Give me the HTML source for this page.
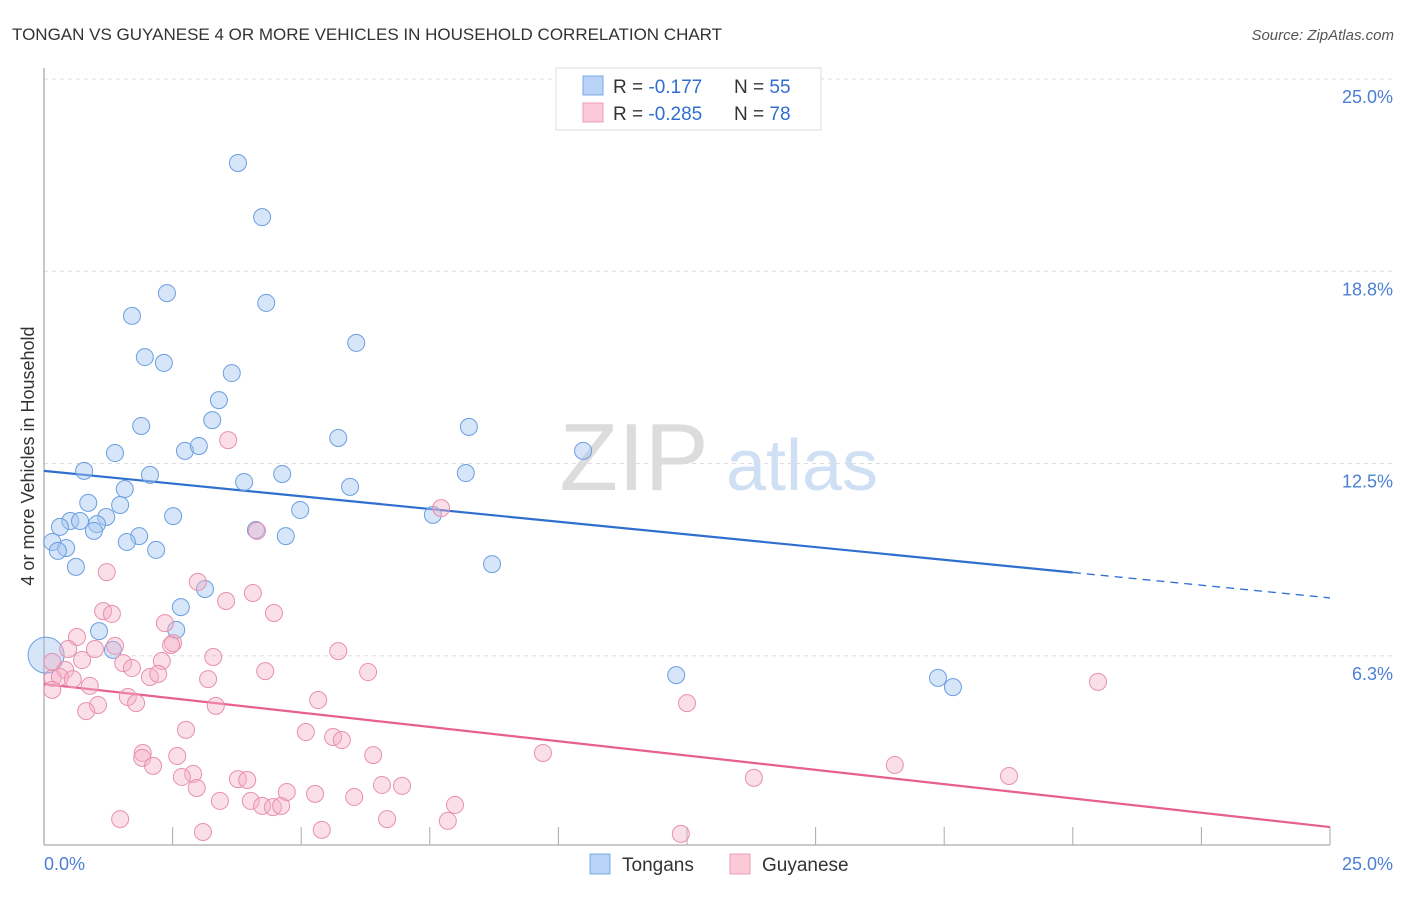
<!DOCTYPE html>
<html><head><meta charset="utf-8"><style>
body{margin:0;background:#fff;font-family:"Liberation Sans",sans-serif;}
svg text{font-family:"Liberation Sans",sans-serif;}
</style></head><body>
<svg id="c" width="1406" height="892" xmlns="http://www.w3.org/2000/svg">
<text x="12" y="40" font-size="17" fill="#333">TONGAN VS GUYANESE 4 OR MORE VEHICLES IN HOUSEHOLD CORRELATION CHART</text>
<text x="1394" y="40" font-size="15" fill="#555" text-anchor="end" font-style="italic">Source: ZipAtlas.com</text>
<g><text x="634" y="490" font-size="96" fill="#dcdcdc" font-family="Liberation Serif" text-anchor="middle">ZIP</text><text x="802" y="490" font-size="72" fill="#cfe0f4" text-anchor="middle">atlas</text></g>
<g id="grid"></g><g id="axes"></g><g id="trend"></g><g id="pts"></g>
<text transform="translate(34,456) rotate(-90)" font-size="18" fill="#333" text-anchor="middle">4 or more Vehicles in Household</text>
<g>
<rect x="556" y="68" width="265" height="62" fill="#fff" stroke="#ddd"/>
<rect x="583" y="76" width="20" height="19" fill="#b8d3f5" stroke="#7aa7e4"/>
<rect x="583" y="103" width="20" height="19" fill="#fcc9d8" stroke="#ec9fb8"/>
<text x="613" y="93" font-size="19" fill="#333">R = <tspan fill="#2f6fd0"> -0.177</tspan><tspan x="734">N = </tspan><tspan fill="#2f6fd0">55</tspan></text>
<text x="613" y="120" font-size="19" fill="#333">R = <tspan fill="#2f6fd0">-0.285</tspan><tspan x="734">N = </tspan><tspan fill="#2f6fd0">78</tspan></text>
</g>
<g>
<rect x="590" y="854" width="20" height="20" fill="#b8d3f5" stroke="#7aa7e4"/>
<text x="622" y="871" font-size="19" fill="#333">Tongans</text>
<rect x="730" y="854" width="20" height="20" fill="#fcc9d8" stroke="#ec9fb8"/>
<text x="762" y="871" font-size="19" fill="#333">Guyanese</text>
</g>
</svg>
<script>
const yTicks=[25,18.75,12.5,6.25];
const yTickLabels=["25.0%","18.8%","12.5%","6.3%"];
const xTickVals=[0,2.5,5,7.5,10,12.5,15,17.5,20,22.5,25];
const tonganX=[3.77,4.24,2.39,4.32,1.71,1.96,2.33,6.07,3.65,3.40,3.27,1.89,5.72,8.26,1.38,2.74,3.01,10.48,0.78,2.06,3.89,4.63,8.20,5.95,1.57,0.86,1.48,2.51,4.98,7.56,0.51,0.70,0.31,1.21,1.03,0.97,1.85,1.61,4.12,4.70,0.16,0.43,0.27,2.18,0.62,8.71,3.13,2.66,1.07,2.57,1.34,0.04,12.29,17.38,17.67];
const tonganY=[22.27,20.51,18.04,17.72,17.30,15.96,15.77,16.42,15.44,14.56,13.91,13.72,13.33,13.69,12.84,12.91,13.07,12.91,12.26,12.13,11.90,12.16,12.19,11.74,11.67,11.22,11.15,10.79,10.99,10.83,10.63,10.63,10.44,10.76,10.53,10.31,10.14,9.95,10.34,10.14,9.95,9.75,9.66,9.69,9.14,9.23,8.42,7.83,7.05,7.09,6.44,6.27,5.62,5.53,5.23];
const guyX=[1.22,2.99,3.54,4.06,4.47,1.15,1.32,2.35,0.64,2.51,2.47,1.38,0.99,0.47,0.74,5.72,3.29,2.29,1.54,1.71,4.30,6.30,0.41,3.19,2.06,2.22,0.17,0.31,0.56,0.16,0.89,1.63,1.79,5.33,3.34,1.05,0.82,2.76,5.09,5.62,5.79,6.40,1.92,1.91,2.12,2.59,2.90,2.68,2.97,3.77,3.95,3.42,4.02,4.24,4.45,4.61,4.72,5.27,6.03,6.57,6.96,7.99,7.85,6.67,5.40,3.09,1.48,3.58,7.72,4.14,20.49,12.50,9.70,13.80,16.54,18.76,12.38,0.16];
const guyY=[8.97,8.65,8.03,8.29,7.64,7.70,7.61,7.31,6.86,6.66,6.60,6.57,6.47,6.47,6.11,6.40,6.21,6.08,6.01,5.85,5.75,5.72,5.79,5.49,5.56,5.66,5.53,5.56,5.49,5.14,5.27,4.91,4.71,4.81,4.62,4.65,4.45,3.84,3.77,3.61,3.51,3.02,3.09,2.93,2.67,2.99,2.41,2.31,1.95,2.24,2.21,1.53,1.53,1.37,1.33,1.37,1.82,1.76,1.66,2.05,2.02,1.40,0.88,0.94,0.59,0.52,0.94,13.26,11.05,10.31,5.40,4.71,3.09,2.28,2.70,2.34,0.46,6.05];
const tonganTrend=[12.26,8.13]; // value at x=0 and x=25
const guyTrend=[5.33,0.68];
const NS="http://www.w3.org/2000/svg";
const X=v=>44+v/25*1286, Y=v=>848-v/25*769;
function mk(tag,attrs,parent){const e=document.createElementNS(NS,tag);for(const k in attrs)e.setAttribute(k,attrs[k]);parent.appendChild(e);return e;}
const grid=document.getElementById('grid'),axes=document.getElementById('axes'),trend=document.getElementById('trend'),pts=document.getElementById('pts');
yTicks.forEach((t,i)=>{
 const l=mk('line',{x1:44,x2:1394,y1:Y(t),y2:Y(t),stroke:'#ddd','stroke-dasharray':'4,4'},grid);
 
 
 const tx=mk('text',{x:1393,y:Y(t)+24,'font-size':18,fill:'#4a7fd4','text-anchor':'end'},axes);
 tx.textContent=yTickLabels[i];
 
 
});
const ya=mk('line',{x1:44,x2:44,y1:68,y2:845,stroke:'#aaa','stroke-width':1.3},axes);


const xa=mk('line',{x1:44,x2:1330,y1:845,y2:845,stroke:'#aaa','stroke-width':1.3},axes);


xTickVals.forEach(t=>{
 const l=mk('line',{x1:X(t),x2:X(t),y1:827,y2:845,stroke:'#aaa'},axes);
 
 
});
const xl0=mk('text',{x:44,y:870,'font-size':18,fill:'#4a7fd4'},axes);xl0.textContent='0.0%';


const xl1=mk('text',{x:1393,y:870,'font-size':18,fill:'#4a7fd4','text-anchor':'end'},axes);xl1.textContent='25.0%';


function draw(xs,ys,fill,stroke,name){
 xs.forEach((x,i)=>{
  const big=(name==='tongan-point'&&i===51);
  const c=mk('circle',{cx:X(x),cy:Y(ys[i]),r:big?18:8.5,fill:fill,stroke:stroke,'stroke-width':1},pts);
  
  
 });
}
draw(tonganX,tonganY,'rgba(164,198,240,0.45)','#6b9fe0','tongan-point');
draw(guyX,guyY,'rgba(246,176,198,0.4)','#e890ae','guyanese-point');
const at=(tr,x)=>tr[0]+(tr[1]-tr[0])*x/25;
const tb=mk('line',{x1:X(0),y1:Y(at(tonganTrend,0)),x2:X(20),y2:Y(at(tonganTrend,20)),stroke:'#2f6fd0','stroke-width':2.2},trend);


const td=mk('line',{x1:X(20),y1:Y(at(tonganTrend,20)),x2:X(25),y2:Y(at(tonganTrend,25)),stroke:'#2f6fd0','stroke-width':1.3,'stroke-dasharray':'8,6'},trend);


const tp=mk('line',{x1:X(0),y1:Y(guyTrend[0]),x2:X(25),y2:Y(guyTrend[1]),stroke:'#e8608e','stroke-width':2.2},trend);


</script>
</body></html>
